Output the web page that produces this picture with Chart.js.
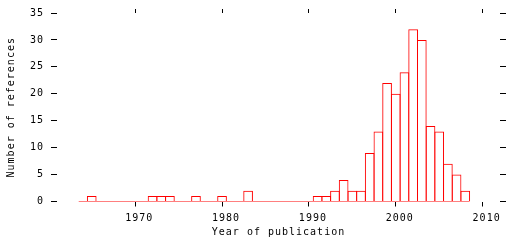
<!DOCTYPE html>
<html><head><meta charset="utf-8">
<script src="https://cdn.jsdelivr.net/npm/chart.js@4/dist/chart.umd.min.js"></script>
<style>html,body{margin:0;padding:0;background:#fff}canvas{display:block}</style>
</head><body>
<canvas id="c" width="512" height="240"></canvas>
<script>
const years = [1964,1965,1966,1967,1968,1969,1970,1971,1972,1973,1974,1975,1976,1977,1978,1979,1980,1981,1982,1983,1984,1985,1986,1987,1988,1989,1990,1991,1992,1993,1994,1995,1996,1997,1998,1999,2000,2001,2002,2003,2004,2005,2006,2007,2008];
const counts = [0,1,0,0,0,0,0,0,1,1,1,0,0,1,0,0,1,0,0,2,0,0,0,0,0,0,0,1,1,2,4,2,2,9,13,22,20,24,32,30,14,13,7,5,2];
const xTicks = [1970,1980,1990,2000,2010];
const yTicks = [0,5,10,15,20,25,30,35];
const xTitle = 'Year of publication';
const yTitle = 'Number of references';

Chart.defaults.font.family = "'DejaVu Sans Mono', monospace";
Chart.defaults.font.size = 10;
Chart.defaults.color = '#000';

const setTicks = vals => s => { s.ticks = vals.map(v => ({value: v})); };
const fixW = w => s => { s.width = w; };
const fixH = h => s => { s.height = h; };
const gridOpts = len => ({display: true, drawOnChartArea: false, drawTicks: true, tickLength: len, color: '#000', lineWidth: 1, offset: false});

const spacing = {id: 'spacing', beforeDraw(chart) { chart.ctx.letterSpacing = '1px'; }};

new Chart(document.getElementById('c'), {
  type: 'bar',
  data: {
    datasets: [
      {
        type: 'bar',
        data: years.map((y, i) => ({x: y, y: counts[i]})),
        backgroundColor: 'rgba(0,0,0,0)',
        borderColor: '#ff0000',
        borderWidth: 1,
        borderSkipped: 'start',
        barPercentage: 1.115,
        categoryPercentage: 1,
        inflateAmount: 0,
        xAxisID: 'x', yAxisID: 'y'
      },
      {
        type: 'line',
        data: [{x: years[0] - 0.5, y: 0}, {x: years[years.length - 1] + 0.5, y: 0}],
        borderColor: '#ff0000',
        borderWidth: 1,
        pointRadius: 0,
        fill: false,
        xAxisID: 'x', yAxisID: 'y'
      }
    ]
  },
  options: {
    responsive: false,
    animation: false,
    events: [],
    layout: {padding: 0, autoPadding: false},
    plugins: {legend: {display: false}, tooltip: {enabled: false}},
    scales: {
      x: {
        type: 'linear', position: 'bottom', min: 1961, max: 2012, bounds: 'data', offset: false,
        afterBuildTicks: setTicks(xTicks), afterFit: fixH(38.5),
        grid: gridOpts(5), border: {display: false},
        ticks: {padding: 6, labelOffset: 4, maxRotation: 0, autoSkip: false, callback: v => String(v)},
        title: {display: true, text: xTitle, padding: {top: 0, bottom: 2}}
      },
      x2: {
        type: 'linear', position: 'top', min: 1961, max: 2012, bounds: 'data', offset: false, display: true,
        afterBuildTicks: setTicks(xTicks), afterFit: fixH(4.5),
        grid: gridOpts(4), border: {display: false},
        ticks: {display: false}
      },
      y: {
        type: 'linear', position: 'left', min: 0, max: 35, bounds: 'data',
        afterBuildTicks: setTicks(yTicks), afterFit: fixW(57),
        grid: gridOpts(6), border: {display: false},
        ticks: {padding: 7, callback: v => String(v)},
        title: {display: true, text: yTitle, padding: {top: 5, bottom: 0}}
      },
      y2: {
        type: 'linear', position: 'right', min: 0, max: 35, bounds: 'data', display: true,
        afterBuildTicks: setTicks(yTicks), afterFit: fixW(12),
        grid: gridOpts(6), border: {display: false},
        ticks: {display: false}
      }
    }
  },
  plugins: [spacing]
});
</script>
</body></html>
